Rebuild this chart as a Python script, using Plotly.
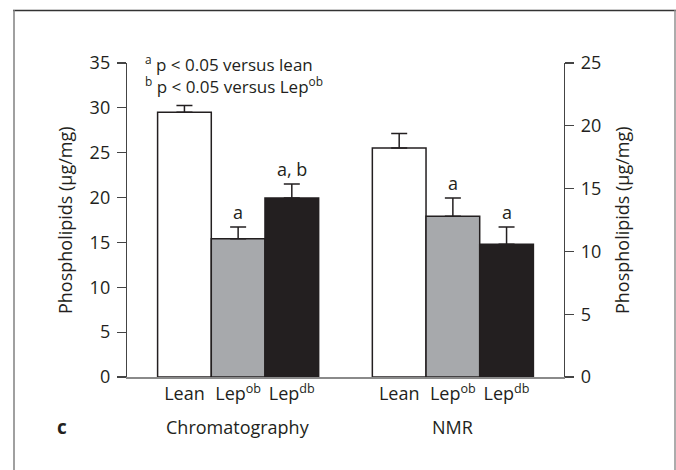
import plotly.graph_objects as go

# ---- data ----
groups = ["Chromatography", "NMR"]
categories = ["Lean", "Lep<sup>ob</sup>", "Lep<sup>db</sup>"]
chrom_values = [29.5, 15.4, 19.95]
chrom_errors = [0.75, 1.33, 1.56]
nmr_values = [18.24, 12.79, 10.57]
nmr_errors = [1.14, 1.46, 1.38]
chrom_sig = ["", "a", "a, b"]
nmr_sig = ["", "a", "a"]
chrom_pos = [1, 2, 3]
nmr_pos = [5, 6, 7]
left_ticks = [0, 5, 10, 15, 20, 25, 30, 35]
right_ticks = [0, 5, 10, 15, 20, 25]

# ---- style ----
W, H = 676, 470
L, R, T, B = 127, 564, 63, 377
INK = "#231f20"
FILLS = ["#ffffff", "#a7a9ac", "#231f20"]
FONT = "Open Sans"
FS = 18


def pxx(x):
    return (x - L) / (R - L)


def pxy(y):
    return (B - y) / (B - T)


fig = go.Figure()

bar_style = dict(width=1, marker=dict(color=FILLS, line=dict(color=INK, width=1.5)))
err_style = dict(type="data", symmetric=False, color=INK, thickness=1.5, width=8)

fig.add_trace(go.Bar(
    x=chrom_pos, y=chrom_values,
    error_y=dict(array=chrom_errors, arrayminus=[0] * 3, **err_style),
    **bar_style))
fig.add_trace(go.Bar(
    x=nmr_pos, y=nmr_values, yaxis="y2",
    error_y=dict(array=nmr_errors, arrayminus=[0] * 3, **err_style),
    **bar_style))

annotations = []
for pos, v, e, s in zip(chrom_pos, chrom_values, chrom_errors, chrom_sig):
    if s:
        annotations.append(dict(x=pos, y=v + e, xref="x", yref="y", text=s,
                                showarrow=False, yanchor="middle", yshift=15))
for pos, v, e, s in zip(nmr_pos, nmr_values, nmr_errors, nmr_sig):
    if s:
        annotations.append(dict(x=pos, y=v + e, xref="x", yref="y2", text=s,
                                showarrow=False, yanchor="middle", yshift=15))

# group labels
annotations.append(dict(x=chrom_pos[1], y=pxy(427), xref="x", yref="paper",
                        text=groups[0], showarrow=False, yanchor="middle"))
annotations.append(dict(x=nmr_pos[1], y=pxy(427), xref="x", yref="paper",
                        text=groups[1], showarrow=False, yanchor="middle"))
# panel letter
annotations.append(dict(x=pxx(62), y=pxy(427), xref="paper", yref="paper",
                        text="<b>c</b>", showarrow=False, yanchor="middle",
                        xanchor="center", font=dict(size=19)))
# significance legend
annotations.append(dict(x=pxx(143), y=pxy(63), xref="paper", yref="paper",
                        text="<sup>a</sup> p &lt; 0.05 versus lean", showarrow=False,
                        xanchor="left", yanchor="middle", font=dict(size=17)))
annotations.append(dict(x=pxx(143), y=pxy(85), xref="paper", yref="paper",
                        text="<sup>b</sup> p &lt; 0.05 versus Lep<sup>ob</sup>",
                        showarrow=False, xanchor="left", yanchor="middle",
                        font=dict(size=17)))
# axis titles
annotations.append(dict(x=pxx(65), y=0.5, xref="paper", yref="paper",
                        text="Phospholipids (µg/mg)", textangle=-90,
                        showarrow=False, xanchor="center", yanchor="middle"))
annotations.append(dict(x=pxx(622), y=0.5, xref="paper", yref="paper",
                        text="Phospholipids (µg/mg)", textangle=-90,
                        showarrow=False, xanchor="center", yanchor="middle"))

shapes = [
    dict(type="line", xref="paper", yref="paper", x0=pxx(13), x1=pxx(676),
         y0=pxy(10.5), y1=pxy(10.5), line=dict(color="#333333", width=1.5)),
    dict(type="line", xref="paper", yref="paper", x0=pxx(14), x1=pxx(14),
         y0=pxy(10), y1=pxy(480), line=dict(color="#808080", width=1.5)),
    dict(type="line", xref="paper", yref="paper", x0=pxx(675), x1=pxx(675),
         y0=pxy(10), y1=pxy(480), line=dict(color="#909090", width=1.5)),
]

axis_common = dict(showgrid=False, zeroline=False, showline=True,
                   linecolor="#444444", linewidth=1.2, ticks="outside",
                   ticklen=9, tickwidth=1.2, tickcolor="#444444",
                   tickfont=dict(family=FONT, size=FS, color=INK), fixedrange=True)

fig.update_layout(
    width=W, height=H,
    margin=dict(l=L, r=W - R, t=T, b=H - B, pad=0),
    paper_bgcolor="white", plot_bgcolor="white",
    showlegend=False, barmode="overlay", hovermode=False,
    font=dict(family=FONT, size=FS, color=INK),
    xaxis=dict(range=[-0.07, 8.07], tickvals=chrom_pos + nmr_pos,
               ticktext=categories + categories, showgrid=False, zeroline=False,
               showline=True, linecolor="#8a8a8a", linewidth=1.5, ticks="",
               tickfont=dict(family=FONT, size=FS, color=INK), fixedrange=True),
    yaxis=dict(range=[0, 35], tickvals=left_ticks, ticklabelstandoff=3,
               **axis_common),
    yaxis2=dict(range=[0, 25], tickvals=right_ticks, overlaying="y", side="right",
                ticklabelstandoff=3, **axis_common),
    annotations=annotations,
    shapes=shapes,
)

fig.write_html("out.html", config={"displayModeBar": False, "staticPlot": True})
